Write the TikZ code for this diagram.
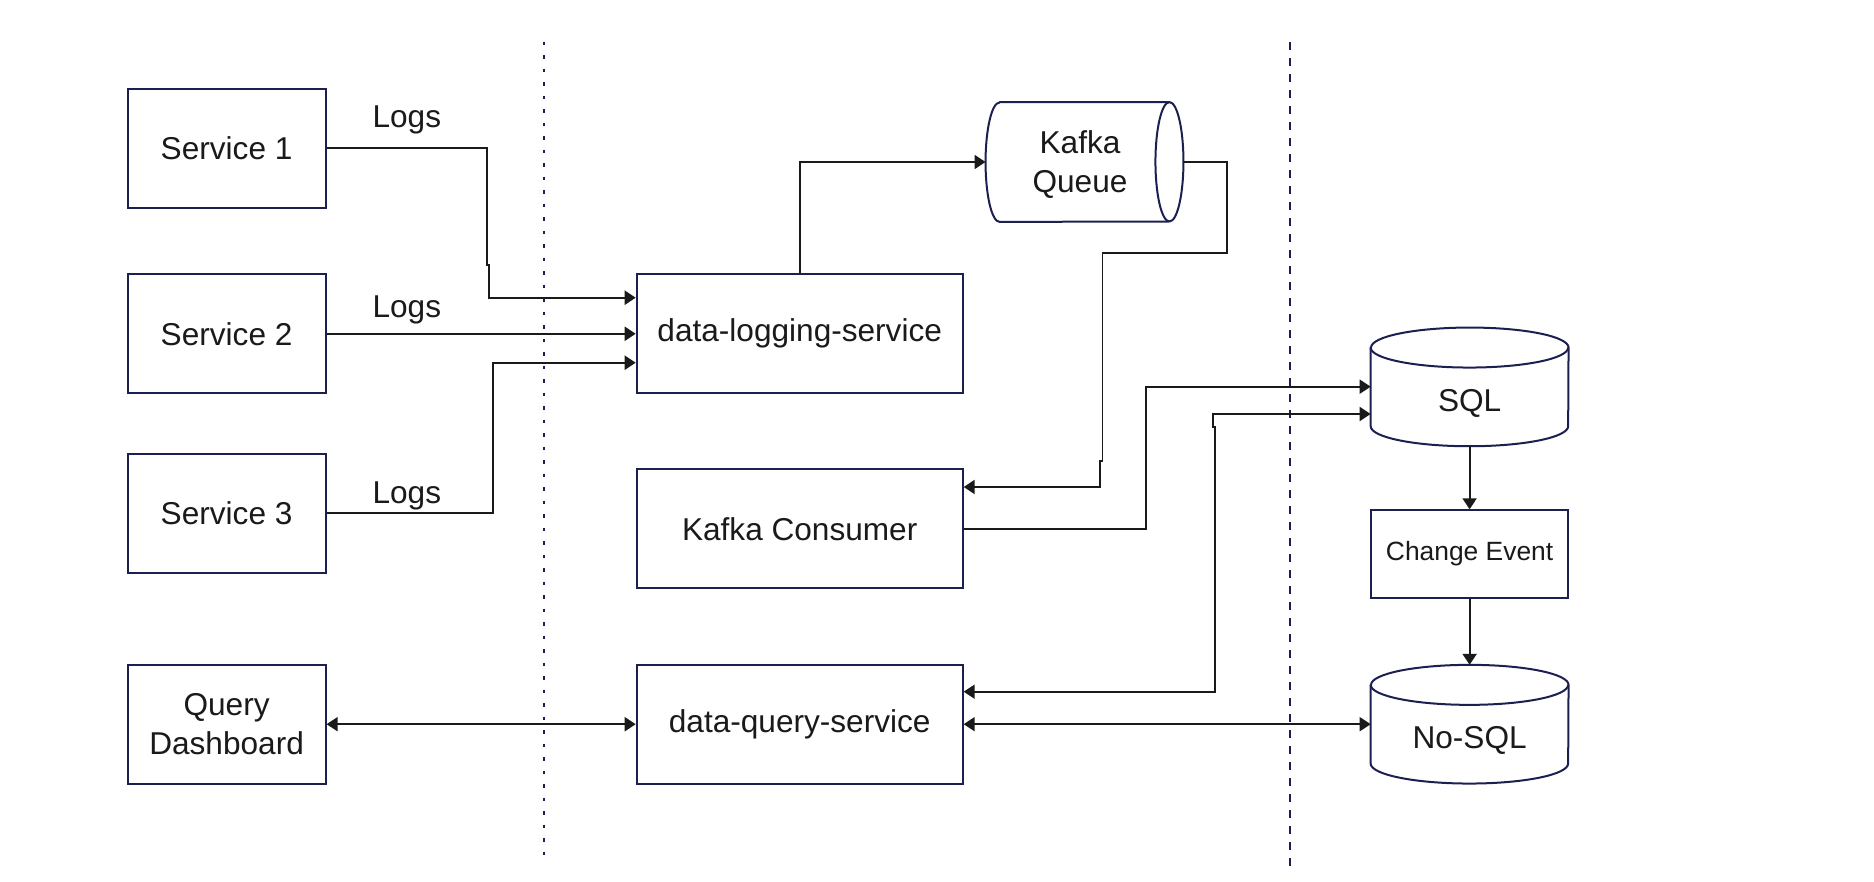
\documentclass[tikz,border=0pt]{standalone}
\usepackage{fontspec}
\setmainfont{Liberation Sans}
\usetikzlibrary{arrows.meta,calc}
\definecolor{navy}{HTML}{1C2050}
\definecolor{ink}{HTML}{1A1A1A}
\begin{document}
\begin{tikzpicture}[x=1pt,y=-1pt,
  txt/.style={text=ink,font=\fontsize{31.6}{38.4}\selectfont,align=center,inner sep=0pt},
  box/.style={txt,draw=navy,line width=2pt,fill=white,minimum width=198pt,minimum height=119pt},
  wbox/.style={box,minimum width=326pt},
  cylnode/.style={txt,minimum width=197.5pt,minimum height=118.3pt},
  cyl/.style={draw=navy,line width=2pt,fill=white,line join=round},
  arr/.style={draw=ink,line width=1.9pt,line join=miter,-{Triangle[length=11pt,width=14pt]}},
  darr/.style={draw=ink,line width=1.9pt,{Triangle[length=11pt,width=14pt]}-{Triangle[length=11pt,width=14pt]}},
  sepdot/.style={draw=navy,line width=2pt,dash pattern=on 3.5pt off 10pt},
  sepdash/.style={draw=navy,line width=2pt,dash pattern=on 8pt off 8pt}
]
\useasboundingbox (0,0) rectangle (1874,882);

% separators
\coordinate (d1a) at (544.4,41.7);
\coordinate (d1b) at (544.4,859.3);
\coordinate (d2a) at (1290,41.7);
\coordinate (d2b) at (1290,871);
\draw[sepdot] (d1a) -- (d1b);
\draw[sepdash] (d2a) -- (d2b);

% left column
\node[box] (s1) at (226.6,148.4) {Service 1};
\node[box] (s2) at (226.6,333.8) {Service 2};
\node[box] (s3) at (226.6,513.2) {Service 3};
\node[box] (qd) at (226.6,724.2) {Query\\Dashboard};

% middle column
\node[wbox] (dls) at (799.7,333.8) {data-logging-service};
\node[wbox] (kc)  at (799.7,528.9) {Kafka Consumer};
\node[wbox] (dqs) at (799.7,724.2) {data-query-service};

% Kafka queue (horizontal cylinder)
\node[cylnode,minimum height=119.4pt] (q) at (1084.5,162) {};
\draw[cyl] ($(q.north west)+(14,0)$) -- ($(q.north east)+(-14,0)$)
  arc[start angle=90,end angle=-90,x radius=14pt,y radius=59.7pt]
  -- ($(q.south west)+(14,0)$)
  arc[start angle=270,end angle=90,x radius=14pt,y radius=59.7pt] -- cycle;
\draw[cyl,fill=none] ($(q.north east)+(-14,0)$)
  arc[start angle=90,end angle=270,x radius=14pt,y radius=59.7pt];
\node[txt] at (1080,164.5) {Kafka\\Queue};

% SQL cylinder
\node[cylnode] (sql) at (1469.6,386.9) {};
\draw[cyl] ($(sql.north west)+(0,20)$) -- ($(sql.south west)+(0,-20)$)
  arc[start angle=180,end angle=360,x radius=98.75pt,y radius=20pt]
  -- ($(sql.north east)+(0,20)$)
  arc[start angle=0,end angle=180,x radius=98.75pt,y radius=20pt] -- cycle;
\draw[cyl,fill=none] ($(sql.north west)+(0,20)$)
  arc[start angle=180,end angle=360,x radius=98.75pt,y radius=20pt];
\node[txt] at ($(sql.center)+(0,16.5)$) {SQL};

% Change Event
\node[box,minimum width=197.5pt,minimum height=87.4pt,font=\fontsize{26.4}{31}\selectfont] (ce) at (1469.6,554) {Change Event};

% No-SQL cylinder
\node[cylnode] (nosql) at (1469.6,724.2) {};
\draw[cyl] ($(nosql.north west)+(0,20)$) -- ($(nosql.south west)+(0,-20)$)
  arc[start angle=180,end angle=360,x radius=98.75pt,y radius=20pt]
  -- ($(nosql.north east)+(0,20)$)
  arc[start angle=0,end angle=180,x radius=98.75pt,y radius=20pt] -- cycle;
\draw[cyl,fill=none] ($(nosql.north west)+(0,20)$)
  arc[start angle=180,end angle=360,x radius=98.75pt,y radius=20pt];
\node[txt] at ($(nosql.center)+(0,16.5)$) {No-SQL};

% Logs labels
\node[txt,anchor=base] (l1) at (406.8,127.5) {Logs};
\node[txt,anchor=base] (l2) at (406.8,317.5) {Logs};
\node[txt,anchor=base] (l3) at (406.8,503) {Logs};

% connectors
\draw[arr] (s1.east) -- (487.4,148.4) -- (487.4,265) -- (489.2,265) -- (489.2,297.7) -- (dls.west |- 0,297.7);
\draw[arr] (s2.east) -- (dls.west);
\draw[arr] (s3.east) -- (492.8,513.2) -- (492.8,362.7) -- (dls.west |- 0,362.7);
\draw[arr] (dls.north) |- (q.west);
\draw[arr] (q.east) -- (1226.7,162) -- (1226.7,253.3) -- (1102.5,253.3) -- (1102.5,461) -- (1100,461) -- (1100,487) -- (kc.east |- 0,487);
\draw[arr] (kc.east) -- (1146,528.9) -- (1146,386.7) -- (sql.west |- 0,386.7);
\draw[darr] (sql.west |- 0,414) -- (1213.3,414) -- (1213.3,426.7) -- (1215,426.7) -- (1215,691.7) -- (dqs.east |- 0,691.7);
\draw[darr] (dqs.east) -- (nosql.west);
\draw[darr] (qd.east) -- (dqs.west);
\draw[arr] (sql.south) -- (ce.north);
\draw[arr] (ce.south) -- (nosql.north);
\end{tikzpicture}
\end{document}
